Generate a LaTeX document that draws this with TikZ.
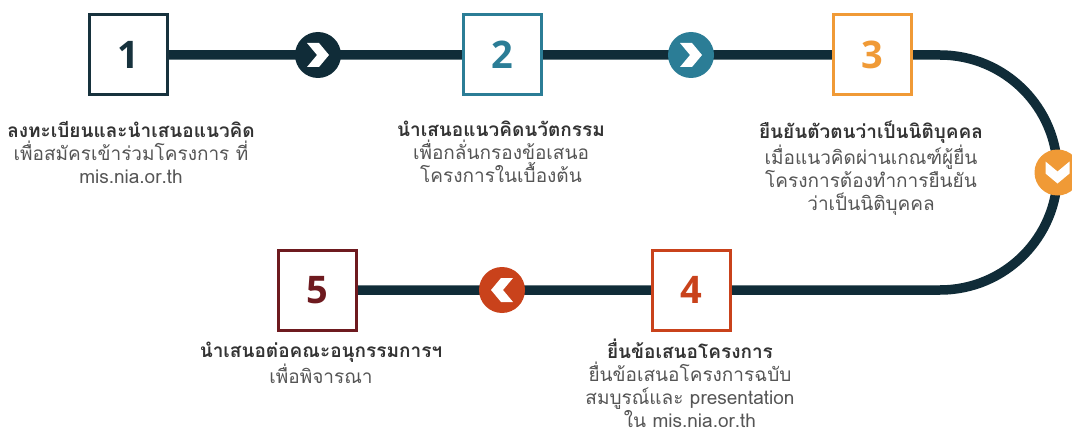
\documentclass[tikz,border=0pt]{standalone}
\usepackage{fontspec}
\setmainfont[Script=Thai]{Loma}
\newfontfamily\numfont{Open Sans}
\usetikzlibrary{backgrounds}

\definecolor{roadcol}{HTML}{102C38}
\definecolor{navycol}{HTML}{17323D}
\definecolor{tealcol}{HTML}{2B7D96}
\definecolor{orangecol}{HTML}{F09A36}
\definecolor{redcol}{HTML}{C9421B}
\definecolor{maroncol}{HTML}{6E1A1F}
\definecolor{titlecol}{HTML}{333333}
\definecolor{bodycol}{HTML}{555555}

\tikzset{
  stepbox/.style={draw=#1, text=#1, line width=3pt, fill=white,
    minimum width=78pt, minimum height=80pt, inner sep=0pt,
    font=\numfont\bfseries\fontsize{38}{38}\selectfont},
  arrowdot/.style={circle, fill=#1, minimum size=46pt, inner sep=0pt},
  road/.style={line width=9.5pt, draw=roadcol},
  steptext/.style={align=center, anchor=north, text=bodycol, inner sep=0pt,
    font=\fontsize{19}{23}\selectfont},
  chev/.pic={\fill[white] (-11,-12) -- (1,-12) -- (11,0) -- (1,12)
    -- (-11,12) -- (-1,0) -- cycle;}
}
\newcommand{\steptitle}[1]{{\color{titlecol}\bfseries #1}}

\begin{document}
\begin{tikzpicture}[x=1pt, y=-1pt]
    \useasboundingbox (0,0) rectangle (1072,436);

    % boxes
    \node [stepbox=navycol] (step1) at (128,55) {1};
    \node [stepbox=tealcol] (step2) at (502,55) {2};
    \node [stepbox=orangecol] (step3) at (872,55) {3};
    \node [stepbox=redcol] (step4) at (691,290) {4};
    \node [stepbox=maroncol] (step5) at (317,290) {5};

    % round arrows
    \node [arrowdot=roadcol] (arr1) at (318,55) {};
    \node [arrowdot=tealcol] (arr2) at (691,55) {};
    \node [arrowdot=orangecol] (arr3) at (1057.5,172.5) {};
    \node [arrowdot=redcol] (arr4) at (502,290) {};
    \pic at (arr1) {chev};
    \pic at (arr2) {chev};
    \pic [rotate=-90] at (arr3) {chev};
    \pic [rotate=180] at (arr4) {chev};

    % the road behind everything
    \coordinate (bend) at (940,55);
    \begin{pgfonlayer}{background}
      \draw [road] (step1.center) -- (arr1.center) -- (step2.center)
        -- (arr2.center) -- (step3.center) -- (bend)
        arc [start angle=-90, end angle=90, radius=117.5]
        -- (step4.center) -- (arr4.center) -- (step5.center);
    \end{pgfonlayer}

    % texts
    \node [steptext] (lab1) at (131,121) {\steptitle{ลงทะเบียนและนำเสนอแนวคิด}\\
      เพื่อสมัครเข้าร่วมโครงการ ที่\\ mis.nia.or.th};
    \node [steptext] (lab2) at (501,121) {\steptitle{นำเสนอแนวคิดนวัตกรรม}\\
      เพื่อกลั่นกรองข้อเสนอ\\ โครงการในเบื้องต้น};
    \node [steptext] (lab3) at (871,121) {\steptitle{ยืนยันตัวตนว่าเป็นนิติบุคคล}\\
      เมื่อแนวคิดผ่านเกณฑ์ผู้ยื่น\\ โครงการต้องทำการยืนยัน\\ ว่าเป็นนิติบุคคล};
    \node [steptext] (lab4) at (690,339) {\steptitle{ยื่นข้อเสนอโครงการ}\\
      ยื่นข้อเสนอโครงการฉบับ\\ สมบูรณ์และ presentation\\ ใน mis.nia.or.th};
    \node [steptext] (lab5) at (321,342) {\steptitle{นำเสนอต่อคณะอนุกรรมการฯ}\\
      เพื่อพิจารณา};
\end{tikzpicture}
\end{document}
